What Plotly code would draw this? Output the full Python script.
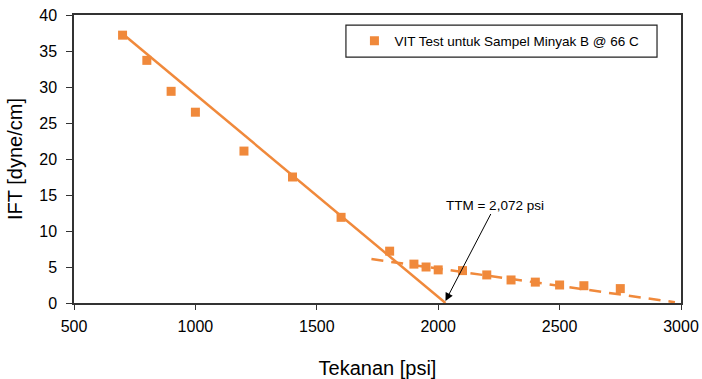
import plotly.graph_objects as go

# Data
pressure = [700, 800, 900, 1000, 1200, 1400, 1600, 1800, 1900, 1950, 2000, 2100, 2200, 2300, 2400, 2500, 2600, 2750]
ift = [37.2, 33.7, 29.4, 26.5, 21.1, 17.5, 11.9, 7.2, 5.4, 5.0, 4.6, 4.5, 3.9, 3.2, 2.9, 2.5, 2.4, 2.0]

trend1_x = [700, 2030]
trend1_y = [37.4, 0.0]
trend2_x = [1725, 2975]
trend2_y = [6.1, 0.1]

x_ticks = [500, 1000, 1500, 2000, 2500, 3000]
y_ticks = [0, 5, 10, 15, 20, 25, 30, 35, 40]

series_name = "VIT Test untuk Sampel Minyak B @ 66 C"
ttm_label = "TTM = 2,072 psi"
ttm_point = (2030, 0.0)

orange = "#F0893B"
font_family = "Liberation Sans, Arial, sans-serif"

fig = go.Figure()

fig.add_trace(go.Scatter(x=trend1_x, y=trend1_y, mode="lines",
                         line=dict(color=orange, width=2.5), showlegend=False, hoverinfo="skip"))
fig.add_trace(go.Scatter(x=trend2_x, y=trend2_y, mode="lines",
                         line=dict(color=orange, width=2.5, dash="12px,8px"), showlegend=False, hoverinfo="skip"))
fig.add_trace(go.Scatter(x=pressure, y=ift, mode="markers", name=series_name,
                         marker=dict(symbol="square", size=9, color=orange)))

fig.add_annotation(x=ttm_point[0], y=ttm_point[1], xref="x", yref="y",
                   text=ttm_label, showarrow=True, arrowhead=2, arrowsize=1.6, arrowwidth=1,
                   arrowcolor="black", ax=50, ay=-96, yshift=2,
                   font=dict(family=font_family, size=13.5, color="black"))

# legend frame
fig.add_shape(type="rect", xref="paper", yref="paper", x0=0.448, x1=0.9605, y0=0.854, y1=0.965,
              line=dict(color="#222", width=1.2), fillcolor="rgba(0,0,0,0)", layer="above")

fig.update_layout(
    width=702, height=379,
    margin=dict(l=74, r=21, t=15, b=76),
    paper_bgcolor="white", plot_bgcolor="white",
    font=dict(family=font_family, color="black"),
    legend=dict(x=0.462, y=0.91, xanchor="left", yanchor="middle",
                borderwidth=0, bgcolor="rgba(0,0,0,0)",
                font=dict(family=font_family, size=13.5, color="black"),
                itemwidth=30),
    xaxis=dict(range=[500, 3000], tickvals=x_ticks, showgrid=False, zeroline=False,
               showline=True, linecolor="#333", linewidth=1.5, mirror=True,
               ticks="outside", ticklen=5, tickcolor="#333", ticklabelstandoff=3,
               automargin=False,
               tickfont=dict(size=16, family=font_family, color="black"),
               title=dict(text="Tekanan [psi]", font=dict(size=20, family=font_family), standoff=28)),
    yaxis=dict(range=[0, 40], tickvals=y_ticks, showgrid=False, zeroline=False,
               showline=True, linecolor="#333", linewidth=1.5, mirror=True,
               ticks="outside", ticklen=6, tickcolor="#333", ticklabelstandoff=6,
               automargin=False,
               tickfont=dict(size=16, family=font_family, color="black"),
               title=dict(text="IFT [dyne/cm]", font=dict(size=20, family=font_family), standoff=11)),
)

fig.write_html("out.html")
